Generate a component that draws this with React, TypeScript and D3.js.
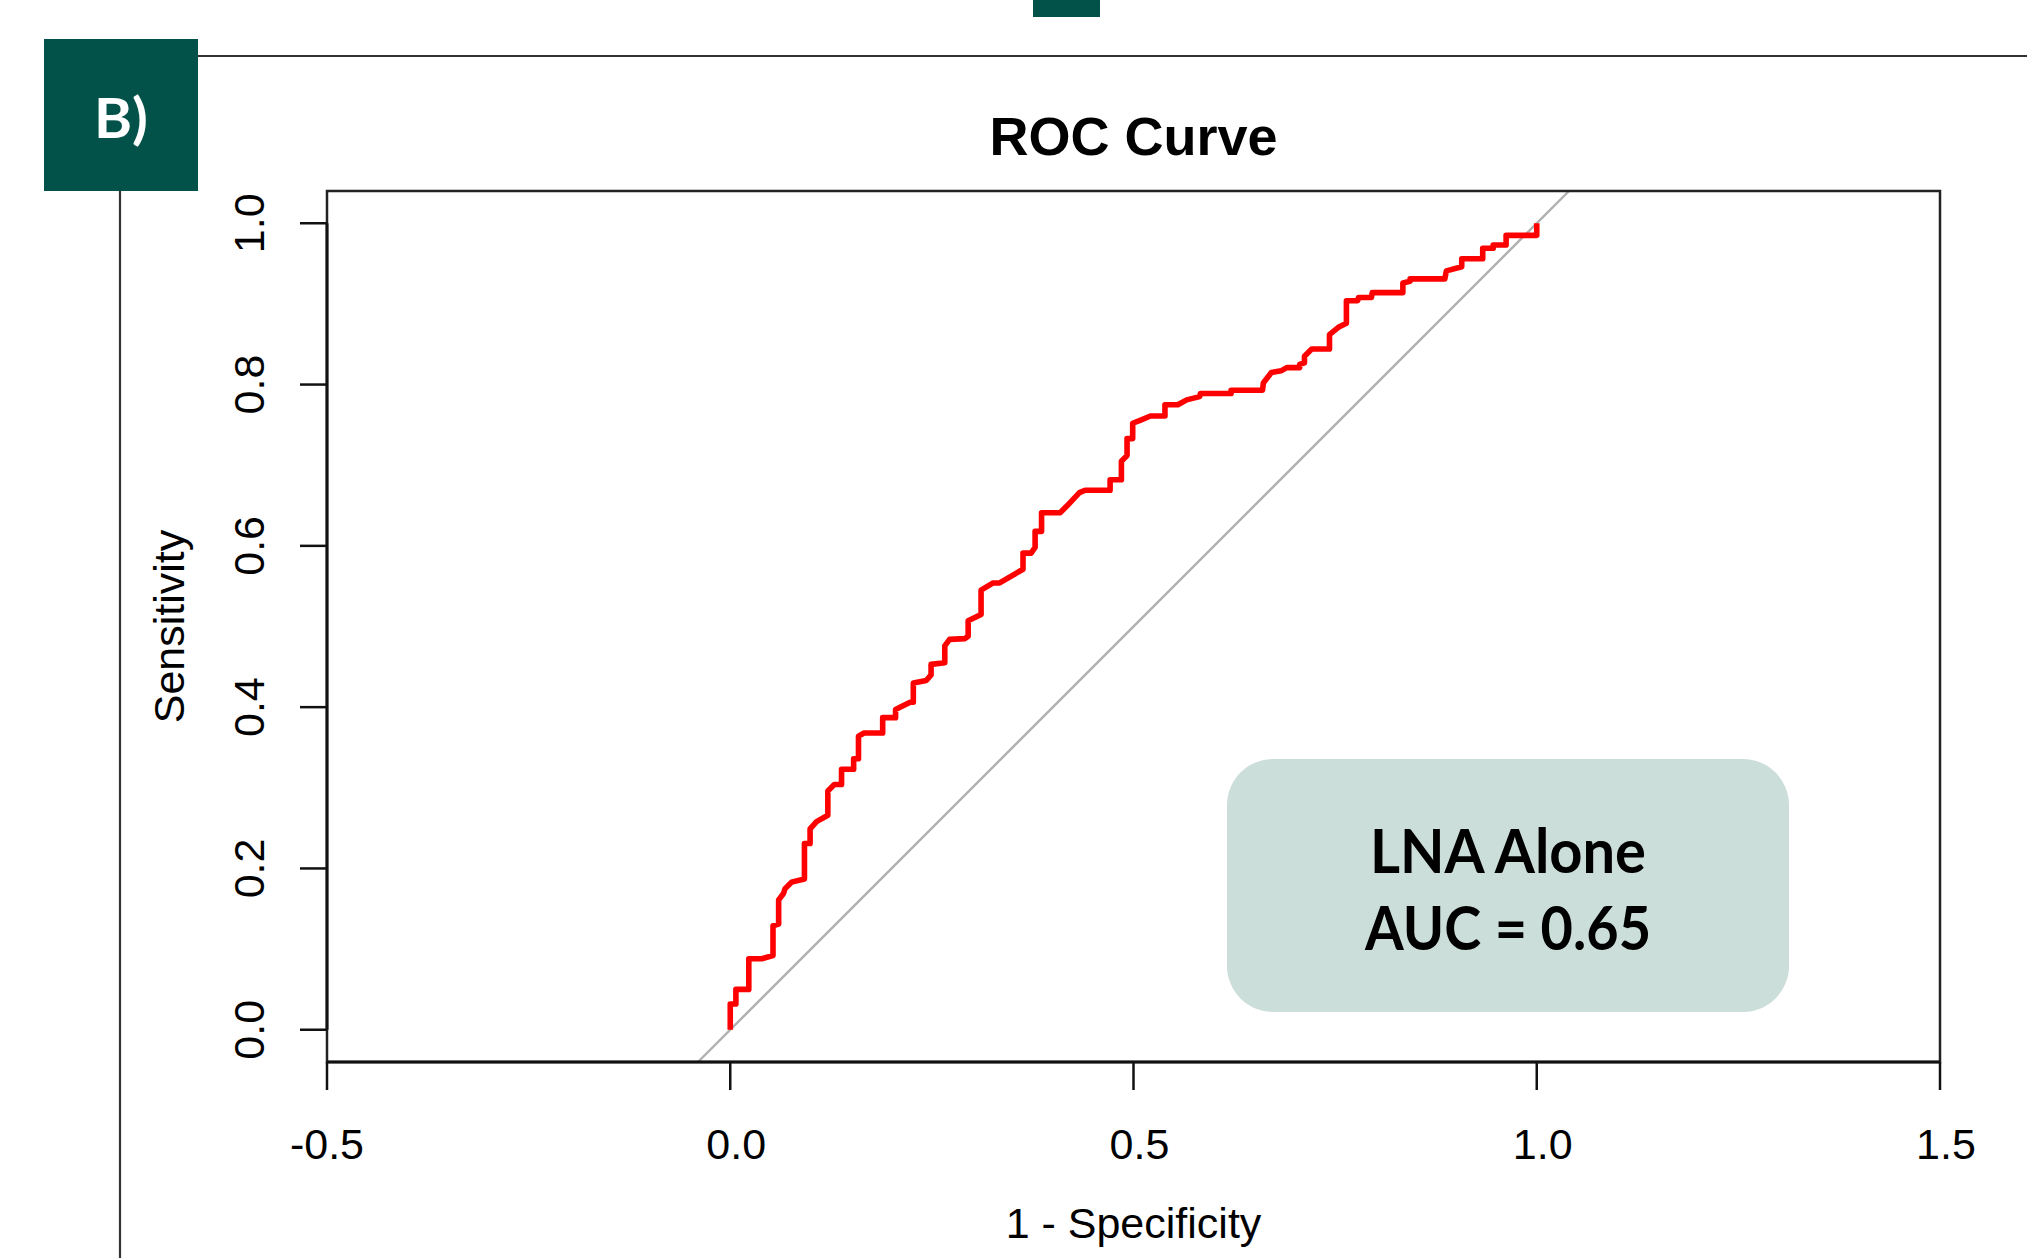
import React from "react";
import * as d3 from "d3";

// ---- data ----
const fprValues = [
  0.0, 0.0, 0.007, 0.007, 0.023, 0.023, 0.039, 0.053, 0.053, 0.06, 0.06, 0.066, 0.068, 0.076, 0.092,
  0.092, 0.099, 0.099, 0.107, 0.121, 0.121, 0.129, 0.138, 0.138, 0.153, 0.153, 0.159, 0.159, 0.166,
  0.189, 0.189, 0.205, 0.205, 0.223, 0.227, 0.227, 0.243, 0.249, 0.249, 0.266, 0.266, 0.272, 0.291,
  0.295, 0.295, 0.311, 0.311, 0.326, 0.334, 0.363, 0.363, 0.373, 0.378, 0.378, 0.386, 0.386, 0.409,
  0.417, 0.433, 0.44, 0.471, 0.471, 0.485, 0.485, 0.492, 0.492, 0.499, 0.499, 0.509, 0.521, 0.539,
  0.539, 0.555, 0.566, 0.582, 0.583, 0.621, 0.621, 0.66, 0.661, 0.671, 0.683, 0.69, 0.706, 0.706,
  0.712, 0.712, 0.721, 0.743, 0.743, 0.754, 0.764, 0.764, 0.778, 0.779, 0.795, 0.796, 0.834, 0.834,
  0.843, 0.843, 0.886, 0.888, 0.907, 0.907, 0.933, 0.933, 0.946, 0.946, 0.962, 0.962, 1.0, 1.0,
];
const tprValues = [
  0.0, 0.032, 0.032, 0.05, 0.05, 0.088, 0.088, 0.092, 0.129, 0.131, 0.161, 0.169, 0.175, 0.183, 0.187,
  0.231, 0.231, 0.249, 0.258, 0.266, 0.296, 0.304, 0.304, 0.323, 0.323, 0.336, 0.336, 0.364, 0.368,
  0.368, 0.387, 0.387, 0.397, 0.406, 0.406, 0.43, 0.433, 0.44, 0.453, 0.455, 0.476, 0.484, 0.485,
  0.488, 0.507, 0.515, 0.545, 0.554, 0.554, 0.571, 0.591, 0.591, 0.598, 0.618, 0.618, 0.641, 0.641,
  0.649, 0.666, 0.669, 0.669, 0.682, 0.682, 0.705, 0.712, 0.733, 0.733, 0.752, 0.756, 0.761, 0.761,
  0.775, 0.775, 0.781, 0.785, 0.789, 0.789, 0.793, 0.793, 0.802, 0.815, 0.817, 0.821, 0.821, 0.825,
  0.827, 0.835, 0.844, 0.844, 0.862, 0.871, 0.876, 0.904, 0.904, 0.908, 0.908, 0.914, 0.914, 0.926,
  0.928, 0.931, 0.931, 0.941, 0.946, 0.956, 0.956, 0.969, 0.969, 0.973, 0.973, 0.985, 0.985, 1.0,
];
const xTicks = [-0.5, 0.0, 0.5, 1.0, 1.5];
const xTickLabels = ["-0.5", "0.0", "0.5", "1.0", "1.5"];
const yTicks = [0.0, 0.2, 0.4, 0.6, 0.8, 1.0];
const yTickLabels = ["0.0", "0.2", "0.4", "0.6", "0.8", "1.0"];
const xDomain = [-0.5, 1.5];
const yDomain = [-0.04, 1.04];
const refLineX = [-0.04, 1.04];
const refLineY = [-0.04, 1.04];
const titleText = "ROC Curve";
const xLabel = "1 - Specificity";
const yLabel = "Sensitivity";
const panelLabel = "B)";
const annotationLines = ["LNA Alone", "AUC = 0.65"];

const W = 2027;
const H = 1258;
const box = { left: 327, right: 1940, top: 191, bottom: 1062 };
const rFont = "'Liberation Sans', Arial, Helvetica, sans-serif";
const calFont = "Lato, 'Open Sans', sans-serif";
const teal = "#03524a";

export default function App() {
  const x = d3.scaleLinear().domain(xDomain).range([box.left, box.right]);
  const y = d3.scaleLinear().domain(yDomain).range([box.bottom, box.top]);

  const rocPts: [number, number][] = fprValues.map((f, i) => [f, tprValues[i]]);
  const line = d3
    .line<[number, number]>()
    .x((d) => x(d[0]))
    .y((d) => y(d[1]));
  const refPts: [number, number][] = refLineX.map((v, i) => [v, refLineY[i]]);

  return (
    <svg
      width={W}
      height={H}
      viewBox={`0 0 ${W} ${H}`}
      style={{ position: "absolute", left: 0, top: 0, background: "#fff" }}
    >
      <rect x={0} y={0} width={W} height={H} fill="#ffffff" />
      {/* decorative frame */}
      <rect x={1033} y={0} width={67} height={17} fill={teal} />
      <line x1={198} x2={W} y1={56} y2={56} stroke="#333" strokeWidth={2.2} />
      <line x1={120} x2={120} y1={191} y2={H} stroke="#333" strokeWidth={2.2} />
      <rect x={44} y={39} width={154} height={152} fill={teal} />
      <text
        x={121}
        y={138}
        textAnchor="middle"
        fill="#fff"
        fontFamily={calFont}
        fontWeight={700}
        fontSize={56}
        textLength={54}
        lengthAdjust="spacingAndGlyphs"
      >
        {panelLabel}
      </text>

      {/* title */}
      <text
        x={(box.left + box.right) / 2}
        y={155}
        textAnchor="middle"
        fontFamily={rFont}
        fontWeight={700}
        fontSize={54}
        fill="#000"
      >
        {titleText}
      </text>

      {/* reference diagonal */}
      <path d={line(refPts) || ""} stroke="#b0b0b0" strokeWidth={2.4} fill="none" />

      {/* ROC curve */}
      <path
        d={line(rocPts) || ""}
        stroke="#ff0000"
        strokeWidth={5.6}
        fill="none"
        strokeLinejoin="round"
        strokeLinecap="butt"
      />

      {/* plot box */}
      <rect
        x={box.left}
        y={box.top}
        width={box.right - box.left}
        height={box.bottom - box.top}
        fill="none"
        stroke="#222"
        strokeWidth={2.5}
      />

      {/* x axis */}
      <line x1={x(xTicks[0])} x2={x(xTicks[xTicks.length - 1])} y1={box.bottom} y2={box.bottom} stroke="#111" strokeWidth={3} />
      {xTicks.map((t, i) => (
        <g key={"xt" + t}>
          <line x1={x(t)} x2={x(t)} y1={box.bottom} y2={box.bottom + 28} stroke="#111" strokeWidth={2.5} />
          <text x={x(t) + (t < 0 ? 0 : 6)} y={1159} textAnchor="middle" fontFamily={rFont} fontSize={43} fill="#000">
            {xTickLabels[i]}
          </text>
        </g>
      ))}
      <text x={(box.left + box.right) / 2} y={1238} textAnchor="middle" fontFamily={rFont} fontSize={43} fill="#000">
        {xLabel}
      </text>

      {/* y axis */}
      <line x1={box.left} x2={box.left} y1={y(yTicks[0])} y2={y(yTicks[yTicks.length - 1])} stroke="#111" strokeWidth={3} />
      {yTicks.map((t, i) => (
        <g key={"yt" + t}>
          <line x1={box.left - 27} x2={box.left} y1={y(t)} y2={y(t)} stroke="#111" strokeWidth={2.5} />
          <text
            transform={`translate(264,${y(t)}) rotate(-90)`}
            textAnchor="middle"
            fontFamily={rFont}
            fontSize={43}
            fill="#000"
          >
            {yTickLabels[i]}
          </text>
        </g>
      ))}
      <text
        transform={`translate(184,${(box.top + box.bottom) / 2}) rotate(-90)`}
        textAnchor="middle"
        fontFamily={rFont}
        fontSize={43}
        fill="#000"
      >
        {yLabel}
      </text>

      {/* annotation */}
      <rect x={1227} y={759} width={562} height={253} rx={46} ry={46} fill="#ccdeda" />
      <text
        x={1508}
        y={873}
        textAnchor="middle"
        fontFamily={calFont}
        fontWeight={700}
        fontSize={62}
        fill="#000"
        textLength={276}
        lengthAdjust="spacingAndGlyphs"
      >
        {annotationLines[0]}
      </text>
      <text
        x={1508}
        y={950}
        textAnchor="middle"
        fontFamily={calFont}
        fontWeight={700}
        fontSize={62}
        fill="#000"
        textLength={286}
        lengthAdjust="spacingAndGlyphs"
      >
        {annotationLines[1]}
      </text>
    </svg>
  );
}
